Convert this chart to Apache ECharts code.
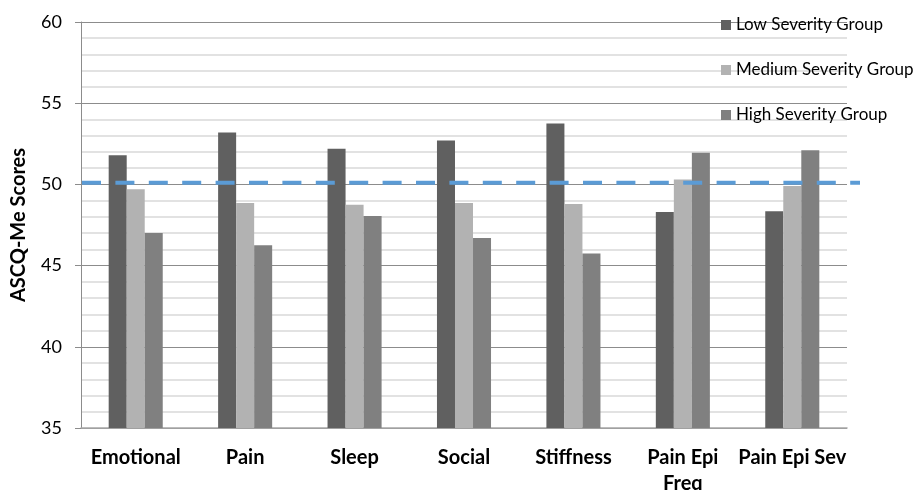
<!DOCTYPE html>
<html>
<head>
<meta charset="utf-8">
<script src="https://cdn.jsdelivr.net/npm/echarts@6/dist/echarts.min.js"></script>
<style>
  html, body { margin: 0; padding: 0; background: #fff; }
  #chart { width: 921px; height: 490px; }
</style>
</head>
<body>
<div id="chart"></div>
<script>
// Domain categories of the ASCQ-Me instrument
const categories = ['Emotional', 'Pain', 'Sleep', 'Social', 'Stiffness', 'Pain Epi Freq', 'Pain Epi Sev'];
// Tick labels shown under each category (long one wrapped)
const tickLabels = ['Emotional', 'Pain', 'Sleep', 'Social', 'Stiffness', 'Pain Epi\nFreq', 'Pain Epi Sev'];

// Mean scores per severity group
const lowSeverity    = [51.8, 53.2, 52.2, 52.7, 53.75, 48.3, 48.35];
const mediumSeverity = [49.7, 48.85, 48.75, 48.85, 48.8, 50.3, 49.9];
const highSeverity   = [47.0, 46.25, 48.05, 46.7, 45.75, 51.95, 52.1];

// Population reference mean
const referenceMean = 50.1;

const yMin = 35, yMax = 60, yStep = 5;
const FONT = 'Lato, "Open Sans", sans-serif';

const chart = echarts.init(document.getElementById('chart'));

const barSeries = (name, data, color) => ({
  name,
  type: 'bar',
  data,
  xAxisIndex: 0,
  yAxisIndex: 0,
  barGap: '0%',
  barCategoryGap: '50.6%',
  itemStyle: { color },
  emphasis: { disabled: true }
});

chart.setOption({
  animation: false,
  backgroundColor: '#ffffff',
  textStyle: { fontFamily: FONT },
  grid: [
    { left: 81, right: 74, top: 22, bottom: 62, containLabel: false, outerBoundsMode: 'none' },
    // wider band used only by the reference line, which runs past the plot edge
    { left: 82, right: 61, top: 22, bottom: 62, containLabel: false, outerBoundsMode: 'none' }
  ],
  legend: {
    orient: 'vertical',
    left: 716,
    top: 10,
    padding: 5,
    itemWidth: 10,
    itemHeight: 10,
    itemGap: 25,
    icon: 'rect',
    data: ['Low Severity Group', 'Medium Severity Group', 'High Severity Group'],
    textStyle: { fontFamily: FONT, fontSize: 17, color: '#000', lineHeight: 20, height: 20 }
  },
  xAxis: [
    {
      type: 'category',
      gridIndex: 0,
      data: categories,
      axisLine: { show: true, lineStyle: { color: '#a6a6a6', width: 1.5 } },
      axisTick: { show: false },
      axisLabel: {
        interval: 0,
        margin: 17,
        color: '#000',
        fontSize: 20,
        fontWeight: 'bold',
        fontFamily: FONT,
        lineHeight: 26,
        formatter: (v, i) => tickLabels[i]
      }
    },
    {
      type: 'value',
      gridIndex: 1,
      min: 0,
      max: 1,
      show: false
    }
  ],
  yAxis: [
    {
      type: 'value',
      gridIndex: 0,
      min: yMin,
      max: yMax,
      interval: yStep,
      name: 'ASCQ-Me Scores',
      nameLocation: 'middle',
      nameGap: 52,
      nameTextStyle: { fontFamily: FONT, fontSize: 20, fontWeight: 'bold', color: '#000' },
      axisLine: { show: true, lineStyle: { color: '#8c8c8c', width: 1 } },
      axisTick: { show: true, length: 6, lineStyle: { color: '#8c8c8c' } },
      axisLabel: { margin: 19, color: '#000', fontSize: 18, fontFamily: FONT },
      splitLine: { show: true, lineStyle: { color: '#8c8c8c', width: 1 } },
      minorTick: { show: false, splitNumber: 5 },
      minorSplitLine: { show: true, lineStyle: { color: '#d9d9d9', width: 1.5 } }
    },
    {
      type: 'value',
      gridIndex: 1,
      min: yMin,
      max: yMax,
      show: false
    }
  ],
  series: [
    barSeries('Low Severity Group', lowSeverity, '#606060'),
    barSeries('Medium Severity Group', mediumSeverity, '#b2b2b2'),
    barSeries('High Severity Group', highSeverity, '#808080'),
    {
      name: 'Reference mean',
      type: 'line',
      xAxisIndex: 1,
      yAxisIndex: 1,
      data: [[0, referenceMean], [1, referenceMean]],
      symbol: 'none',
      silent: true,
      lineStyle: { color: '#5b9bd5', width: 4, type: [19, 14.4], cap: 'butt' },
      z: 5
    }
  ]
});
</script>
</body>
</html>
